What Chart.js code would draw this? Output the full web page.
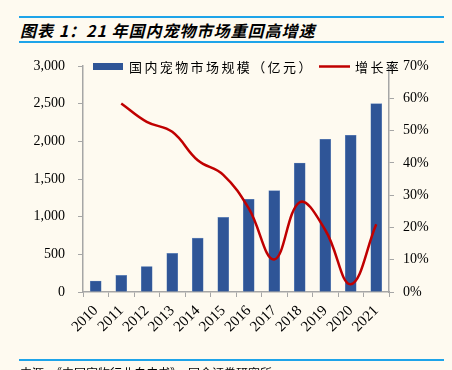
<!DOCTYPE html>
<html>
<head>
<meta charset="utf-8">
<script src="https://cdn.jsdelivr.net/npm/chart.js@4/dist/chart.umd.min.js"></script>
<style>
    html, body { margin: 0; padding: 0; }
    body { width: 452px; height: 370px; background: #fefaf0; position: relative; overflow: hidden; }
    .rule { position: absolute; left: 19px; width: 425px; height: 2px; background: #1ea4e9; }
    #title { position: absolute; left: 20px; top: 18px; font: italic bold 16px "Noto Sans CJK SC", sans-serif; letter-spacing: 1px; color: #000; white-space: nowrap; }
    #source { position: absolute; left: 20px; top: 364px; font: 12px "Noto Sans CJK SC", sans-serif; color: #000; white-space: nowrap; }
    #wrap { position: absolute; left: 0; top: 0; width: 452px; height: 370px; }
</style>
</head>
<body>
<div class="rule" style="top:16px"></div>
<div id="title">图表 1：21 年国内宠物市场重回高增速</div>
<div class="rule" style="top:41px"></div>
<div id="wrap"><canvas id="chart" width="452" height="370"></canvas></div>
<div class="rule" style="top:359px"></div>
<div id="source">来源：《中国宠物行业白皮书》，国金证券研究所</div>
<script>
const years = ['2010', '2011', '2012', '2013', '2014', '2015', '2016', '2017', '2018', '2019', '2020', '2021'];
const marketSize = [145, 220, 338, 512, 715, 990, 1230, 1345, 1712, 2028, 2080, 2500];
const growthRate = [null, 58.4, 52.7, 49.6, 40.8, 36.3, 25.9, 10.1, 27.8, 19.2, 2.4, 21.0];

const serif = '"Liberation Serif", "Times New Roman", serif';
const axisGray = '#a6a6a6';

// legend drawn by hand so it can sit inside the plot like the original
const legendPlugin = {
    id: 'insideLegend',
    afterDraw(chart) {
        const ctx = chart.ctx;
        const bars = chart.data.datasets[0];
        const line = chart.data.datasets[1];
        ctx.save();
        ctx.font = '13px "Noto Sans CJK SC", sans-serif';
        ctx.letterSpacing = '2.4px';
        ctx.textBaseline = 'middle';

        ctx.fillStyle = bars.backgroundColor;
        ctx.fillRect(93, 63, 30, 7);
        ctx.fillStyle = '#000';
        ctx.fillText(bars.label, 129, 67);

        ctx.strokeStyle = line.borderColor;
        ctx.lineWidth = 2.5;
        ctx.beginPath();
        ctx.moveTo(319, 66.5);
        ctx.lineTo(350, 66.5);
        ctx.stroke();
        ctx.fillText(line.label, 355, 67);
        ctx.restore();
    }
};

new Chart(document.getElementById('chart'), {
    type: 'bar',
    data: {
        labels: years,
        datasets: [
            {
                label: '国内宠物市场规模（亿元）',
                data: marketSize,
                yAxisID: 'y',
                backgroundColor: '#2f5597',
                borderColor: '#6f8fbf',
                borderWidth: 0.6,
                barThickness: 11,
                order: 1,
            },
            {
                type: 'line',
                label: '增长率',
                data: growthRate,
                yAxisID: 'y1',
                borderColor: '#c00000',
                borderWidth: 2.5,
                pointRadius: 0,
                tension: 0.4,
                fill: false,
                order: 0,
            },
        ],
    },
    options: {
        responsive: false,
        animation: false,
        layout: { padding: { top: 66, left: 0, right: 0, bottom: 0 } },
        plugins: { legend: { display: false }, tooltip: { enabled: false } },
        scales: {
            x: {
                offset: true,
                grid: { offset: true, drawOnChartArea: false, color: axisGray, tickLength: 5, tickColor: axisGray },
                border: { color: axisGray, width: 1.5 },
                ticks: { color: '#000', font: { family: serif, size: 15 }, maxRotation: 45, minRotation: 45, padding: 5, autoSkip: false },
                afterFit(scale) { scale.height = 78; },
            },
            y: {
                position: 'left',
                min: 0,
                max: 3000,
                ticks: {
                    stepSize: 500,
                    color: '#000',
                    font: { family: serif, size: 14 },
                    padding: 13,
                    callback: (v) => v.toLocaleString('en-US'),
                },
                grid: { drawOnChartArea: false, color: axisGray, tickLength: 5, tickColor: axisGray },
                border: { color: axisGray, width: 1.5 },
                afterFit(scale) { scale.width = 83; },
            },
            y1: {
                position: 'right',
                min: 0,
                max: 70,
                ticks: {
                    stepSize: 10,
                    color: '#000',
                    font: { family: serif, size: 14 },
                    padding: 9,
                    callback: (v) => v + '%',
                },
                grid: { drawOnChartArea: false, color: axisGray, tickLength: 5, tickColor: axisGray },
                border: { color: axisGray, width: 1.5 },
                afterFit(scale) { scale.width = 63; },
            },
        },
    },
    plugins: [legendPlugin],
});
</script>
</body>
</html>
